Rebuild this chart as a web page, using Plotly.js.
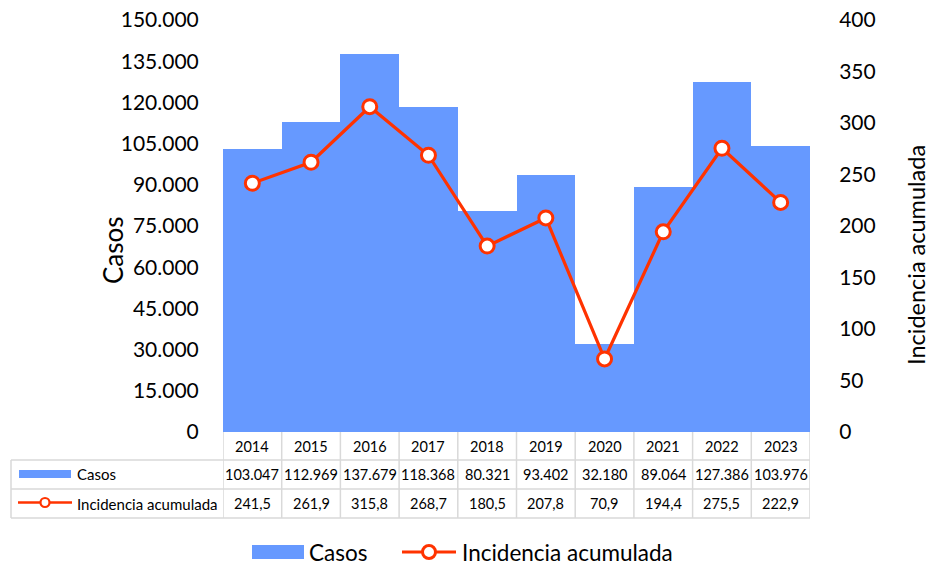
<!DOCTYPE html>
<html>
<head>
<meta charset="utf-8">
<script src="https://cdn.plot.ly/plotly-3.0.1.min.js"></script>
<style>html,body{margin:0;padding:0;background:#fff;}#chart{width:931px;height:565px;}</style>
</head>
<body>
<div id="chart"></div>
<script>
const years = ['2014','2015','2016','2017','2018','2019','2020','2021','2022','2023'];
const casos = [103047, 112969, 137679, 118368, 80321, 93402, 32180, 89064, 127386, 103976];
const incidencia = [241.5, 261.9, 315.8, 268.7, 180.5, 207.8, 70.9, 194.4, 275.5, 222.9];
const seriesNames = ['Casos', 'Incidencia acumulada'];

const BAR_COLOR = '#6699FF';
const LINE_COLOR = '#FF3300';
const GRID = '#D9D9D9';
const FONT = 'Lato, "Open Sans", sans-serif';

// plot geometry (pixels)
const W = 931, H = 565;
const L = 223, R = 810, T = 20, B = 432;
const PW = R - L, PH = B - T;
const px = x => (x - L) / PW;      // pixel x -> paper
const py = y => (B - y) / PH;      // pixel y -> paper

function fmtInt(v) {
  return String(Math.round(v)).replace(/\B(?=(\d{3})+(?!\d))/g, '.');
}
function fmtDec(v) {
  return v.toFixed(1).replace('.', ',');
}

const idx = years.map((_, i) => i);

const traces = [
  {
    type: 'bar', x: idx, y: casos, name: seriesNames[0], width: 1,
    marker: {color: BAR_COLOR, line: {width: 0}}, showlegend: false, hoverinfo: 'skip'
  },
  {
    type: 'scatter', mode: 'lines+markers', x: idx, y: incidencia, name: seriesNames[1], yaxis: 'y2',
    line: {color: LINE_COLOR, width: 3.2},
    marker: {size: 14, color: '#FFFFFF', line: {color: LINE_COLOR, width: 3}},
    showlegend: false, hoverinfo: 'skip'
  }
];

const shapes = [];
const annotations = [];

// table rows (pixel y)
const rowY = [B, 460, 489, 518];
const tableLeft = 11;

for (let r = 1; r <= 3; r++) {
  shapes.push({type: 'line', xref: 'paper', yref: 'paper', x0: px(tableLeft), x1: px(R), y0: py(rowY[r]), y1: py(rowY[r]), line: {color: GRID, width: 1.5}});
}
for (let i = 0; i <= years.length; i++) {
  shapes.push({type: 'line', xref: 'x', yref: 'paper', x0: i - 0.5, x1: i - 0.5, y0: py(rowY[0]), y1: py(rowY[3]), line: {color: GRID, width: 1.5}});
}
shapes.push({type: 'line', xref: 'paper', yref: 'paper', x0: px(tableLeft), x1: px(tableLeft), y0: py(rowY[1]), y1: py(rowY[3]), line: {color: GRID, width: 1.5}});

const TF = {family: FONT, size: 14.5, color: '#000'};
years.forEach((yr, i) => {
  annotations.push({xref: 'x', yref: 'paper', x: i, y: py(446), text: yr, showarrow: false, font: TF, xanchor: 'center', yanchor: 'middle'});
  annotations.push({xref: 'x', yref: 'paper', x: i, y: py(474.5), text: fmtInt(casos[i]), showarrow: false, font: TF, xanchor: 'center', yanchor: 'middle'});
  annotations.push({xref: 'x', yref: 'paper', x: i, y: py(503.5), text: fmtDec(incidencia[i]), showarrow: false, font: TF, xanchor: 'center', yanchor: 'middle'});
});

// row header legend keys
shapes.push({type: 'rect', xref: 'paper', yref: 'paper', x0: px(19), x1: px(71), y0: py(478), y1: py(470), fillcolor: BAR_COLOR, line: {width: 0}});
shapes.push({type: 'line', xref: 'paper', yref: 'paper', x0: px(18), x1: px(72), y0: py(502.5), y1: py(502.5), line: {color: LINE_COLOR, width: 2.5}});
shapes.push({type: 'circle', xref: 'paper', yref: 'paper', x0: px(40.5), x1: px(49.5), y0: py(507), y1: py(498), fillcolor: '#fff', line: {color: LINE_COLOR, width: 2.2}});
annotations.push({xref: 'paper', yref: 'paper', x: px(75), y: py(474.5), text: seriesNames[0], showarrow: false, xanchor: 'left', yanchor: 'middle', font: {family: FONT, size: 15, color: '#000'}});
annotations.push({xref: 'paper', yref: 'paper', x: px(75), y: py(503.5), text: seriesNames[1], showarrow: false, xanchor: 'left', yanchor: 'middle', font: {family: FONT, size: 15, color: '#000'}});

// bottom legend
shapes.push({type: 'rect', xref: 'paper', yref: 'paper', x0: px(252), x1: px(304), y0: py(559), y1: py(545), fillcolor: BAR_COLOR, line: {width: 0}});
annotations.push({xref: 'paper', yref: 'paper', x: px(307), y: py(552), text: seriesNames[0], showarrow: false, xanchor: 'left', yanchor: 'middle', font: {family: FONT, size: 22.5, color: '#000'}});
shapes.push({type: 'line', xref: 'paper', yref: 'paper', x0: px(402), x1: px(456), y0: py(552), y1: py(552), line: {color: LINE_COLOR, width: 3.2}});
shapes.push({type: 'circle', xref: 'paper', yref: 'paper', x0: px(422.5), x1: px(435.5), y0: py(558.5), y1: py(545.5), fillcolor: '#fff', line: {color: LINE_COLOR, width: 3}});
annotations.push({xref: 'paper', yref: 'paper', x: px(460), y: py(552), text: seriesNames[1], showarrow: false, xanchor: 'left', yanchor: 'middle', font: {family: FONT, size: 22.5, color: '#000'}});

// axis titles
annotations.push({xref: 'paper', yref: 'paper', x: px(113), y: py(250), text: 'Casos', showarrow: false, textangle: -90, xanchor: 'center', yanchor: 'middle', borderpad: 0, font: {family: FONT, size: 26, color: '#000'}});
annotations.push({xref: 'paper', yref: 'paper', x: px(916), y: py(255), text: 'Incidencia acumulada', showarrow: false, textangle: -90, xanchor: 'center', yanchor: 'middle', borderpad: 0, font: {family: FONT, size: 23.5, color: '#000'}});

const layout = {
  width: W, height: H,
  margin: {l: L, r: W - R, t: T, b: H - B, pad: 0},
  paper_bgcolor: '#fff', plot_bgcolor: '#fff',
  separators: ',.',
  showlegend: false,
  bargap: 0,
  font: {family: FONT, color: '#000'},
  xaxis: {range: [-0.5, years.length - 0.5], showticklabels: false, showgrid: false, zeroline: false, showline: false, ticks: '', fixedrange: true},
  yaxis: {
    range: [0, 150000], dtick: 15000, tick0: 0, tickformat: ',d', showgrid: false, zeroline: false, showline: false,
    ticks: 'outside', ticklen: 19, tickcolor: 'rgba(0,0,0,0)', tickfont: {family: FONT, size: 21, color: '#000'}
  },
  yaxis2: {
    overlaying: 'y', side: 'right', range: [0, 400], dtick: 50, tick0: 0, showgrid: false, zeroline: false, showline: false,
    ticks: 'outside', ticklen: 24, tickcolor: 'rgba(0,0,0,0)', tickfont: {family: FONT, size: 21, color: '#000'}
  },
  shapes: shapes,
  annotations: annotations
};

Plotly.newPlot('chart', traces, layout, {displayModeBar: false, staticPlot: true});
</script>
</body>
</html>
